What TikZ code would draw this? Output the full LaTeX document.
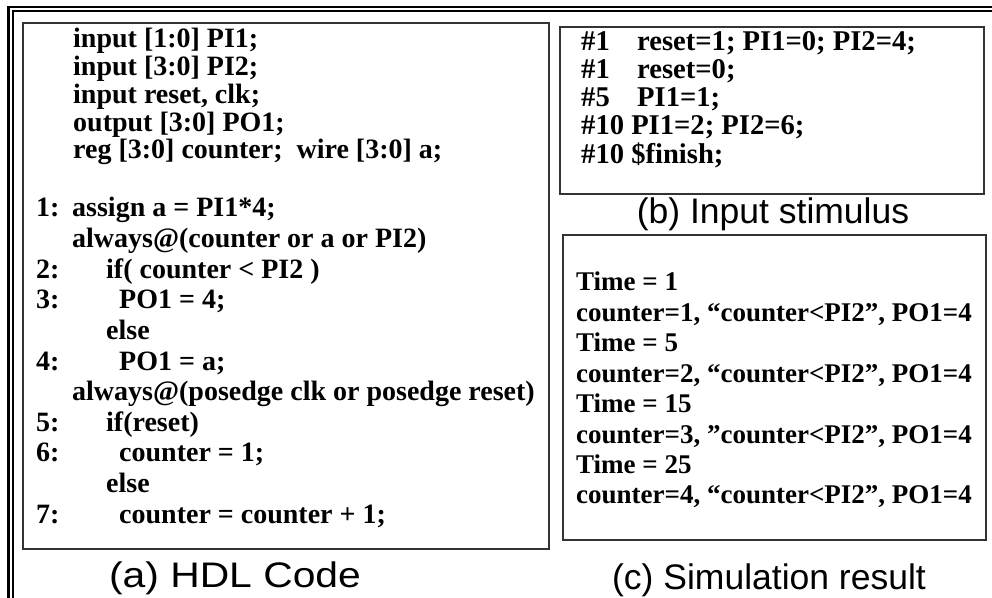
\documentclass[tikz,border=0pt]{standalone}
\usepackage{fontspec}
\setmainfont{Liberation Serif}
\setsansfont{Liberation Sans}
\begin{document}
\begin{tikzpicture}[x=1bp,y=-1bp,
  panel/.style={draw=black!80,line width=1.4bp},
  code/.style={anchor=base west,inner sep=0pt,font=\fontsize{28bp}{30bp}\selectfont\bfseries},
  stim/.style={code,font=\fontsize{28.6bp}{31bp}\selectfont\bfseries},
  result/.style={code,font=\fontsize{27bp}{29bp}\selectfont\bfseries},
  caption/.style={anchor=center,inner sep=0pt,font=\fontsize{35.5bp}{37bp}\selectfont\sffamily}]
\useasboundingbox (0,0) rectangle (992,598);
% double frame (top and left edges)
\draw[line width=2.4bp] (8.3,598) -- (8.3,7.2) -- (992,7.2);
\draw[line width=1.5bp] (12.9,598) -- (12.9,11) -- (992,11);
% panels
\draw[panel] (23,23) rectangle (549,549);
\draw[panel] (560,27) rectangle (984,194);
\draw[panel] (563,235) rectangle (986,540);
% (a) HDL code: declarations
\node[code] (d1) at (73,48)  {input [1:0] PI1;};
\node[code] (d2) at (73,76)  {input [3:0] PI2;};
\node[code] (d3) at (73,104) {input reset, clk;};
\node[code] (d4) at (73,132) {output [3:0] PO1;};
\node[code] (d5) at (73,159) {reg [3:0] counter;\ \ wire [3:0] a;};
% (a) HDL code: numbered statements
\node[code] (n1) at (36,217)   {1:};
\node[code] (s1) at (72,217)   {assign a = PI1*4;};
\node[code] (s2) at (72,247.6) {always@(counter or a or PI2)};
\node[code] (n2) at (36,278.2) {2:};
\node[code] (s3) at (106,278.2){if( counter < PI2 )};
\node[code] (n3) at (36,308.8) {3:};
\node[code] (s4) at (119,308.8){PO1 = 4;};
\node[code] (s5) at (106,339.4){else};
\node[code] (n4) at (36,370)   {4:};
\node[code] (s6) at (119,370)  {PO1 = a;};
\node[code] (s7) at (72,400.6) {always@(posedge clk or posedge reset)};
\node[code] (n5) at (36,431.2) {5:};
\node[code] (s8) at (106,431.2){if(reset)};
\node[code] (n6) at (36,461.8) {6:};
\node[code] (s9) at (119,461.8){counter = 1;};
\node[code] (s10) at (106,492.4){else};
\node[code] (n7) at (36,523)   {7:};
\node[code] (s11) at (119,523) {counter = counter + 1;};
% (b) input stimulus
\node[stim] (t1) at (581,51)  {\#1};
\node[stim] (u1) at (637,51)  {reset=1; PI1=0; PI2=4;};
\node[stim] (t2) at (581,79)  {\#1};
\node[stim] (u2) at (637,79)  {reset=0;};
\node[stim] (t3) at (581,107) {\#5};
\node[stim] (u3) at (637,107) {PI1=1;};
\node[stim] (t4) at (581,135) {\#10 PI1=2; PI2=6;};
\node[stim] (t5) at (581,164) {\#10 \$finish;};
% (c) simulation result
\node[result] (r1) at (576,291)   {Time = 1};
\node[result] (r2) at (576,321.4) {counter=1, “counter<PI2”, PO1=4};
\node[result] (r3) at (576,351.8) {Time = 5};
\node[result] (r4) at (576,382.2) {counter=2, “counter<PI2”, PO1=4};
\node[result] (r5) at (576,412.6) {Time = 15};
\node[result] (r6) at (576,443)   {counter=3, ”counter<PI2”, PO1=4};
\node[result] (r7) at (576,473.4) {Time = 25};
\node[result] (r8) at (576,503.8) {counter=4, “counter<PI2”, PO1=4};
% captions
\node[caption] (ca) at (235,578) {\scalebox{1.15}[1]{(a) HDL Code}};
\node[caption] (cb) at (773,214) {(b) Input stimulus};
\node[caption] (cc) at (769,580) {(c) Simulation result};
\end{tikzpicture}
\end{document}
